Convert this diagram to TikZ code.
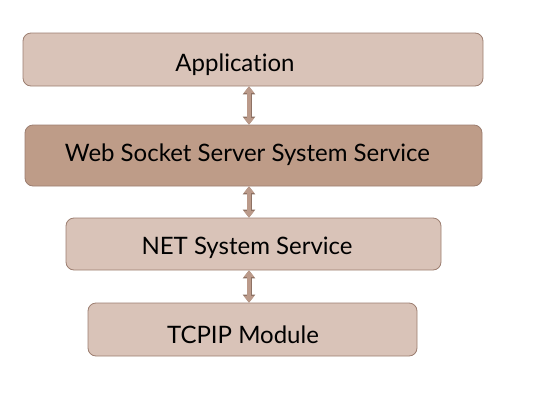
\documentclass[tikz,border=0pt]{standalone}
\usepackage{fontspec}
\setmainfont[Ligatures={NoCommon}]{Lato}
\usetikzlibrary{arrows.meta}

\definecolor{boxlight}{HTML}{D9C3B8}
\definecolor{boxdark}{HTML}{BE9C88}
\definecolor{boxedge}{HTML}{9C7E70}
\definecolor{arrfill}{HTML}{BB9A8A}
\definecolor{arredge}{HTML}{8E7264}

\begin{document}
\begin{tikzpicture}[x=1pt, y=-1pt]
\tikzset{layer/.style={draw=boxedge, fill=boxlight, rounded corners=8pt, line width=0.8pt},
         lbl/.style={font=\fontsize{24}{28}\selectfont, text=black},
         link/.style={line width=3.4pt, arrfill, {Triangle[width=10pt,length=6.5pt]}-{Triangle[width=10pt,length=6.5pt]},
                      preaction={draw=arredge, line width=5pt, {Triangle[width=12pt,length=8pt]}-{Triangle[width=12pt,length=8pt]}}}}
\useasboundingbox (0,0) rectangle (552,402);
\node[layer, minimum width=460, minimum height=53, label={[lbl, xshift=-18, yshift=-5]center:Application}] (app) at (253,59.5) {};
\node[layer, fill=boxdark, minimum width=457, minimum height=61, label={[lbl, xshift=-6, yshift=1]center:Web Socket Server System Service}] (wss) at (253.5,155.5) {};
\node[layer, minimum width=375, minimum height=52, label={[lbl, xshift=-6.5, yshift=-4]center:NET System Service}] (net) at (253.5,244) {};
\node[layer, minimum width=329, minimum height=53, label={[lbl, xshift=-9.5, yshift=-5.5]center:TCPIP Module}] (tcp) at (252.5,329.5) {};
\coordinate (ax) at (249,0);
\draw[link] (app.south -| ax) -- (wss.north -| ax);
\draw[link] (wss.south -| ax) -- (net.north -| ax);
\draw[link] (net.south -| ax) -- (tcp.north -| ax);
\end{tikzpicture}
\end{document}
